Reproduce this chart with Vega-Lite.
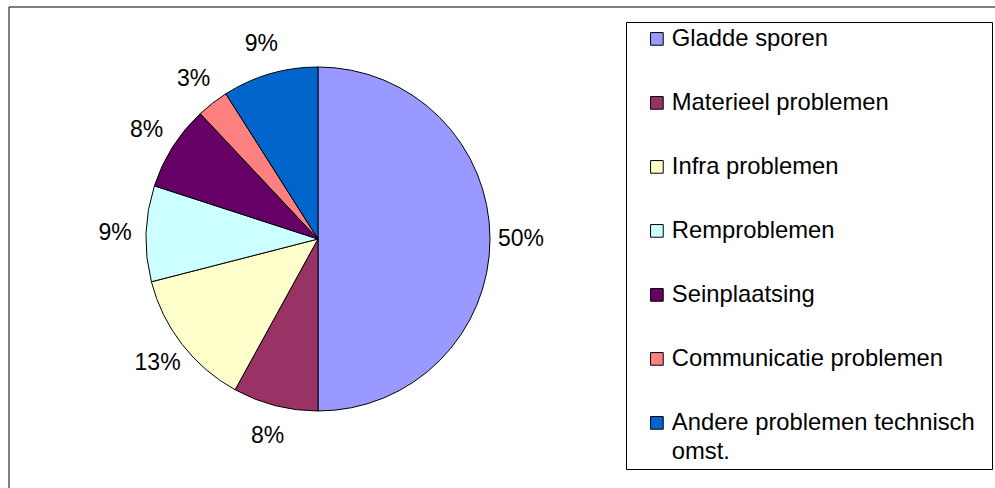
{
  "$schema": "https://vega.github.io/schema/vega-lite/v6.json",
  "width": 618,
  "height": 464,
  "autosize": {"type": "none"},
  "padding": {"left": 9, "top": 7, "right": 368, "bottom": 17},
  "background": "#ffffff",
  "config": {"view": {"stroke": null}, "font": "Liberation Sans"},
  "datasets": {
    "slices": [
      {"idx": 1, "category": "Gladde sporen", "share": 0.50},
      {"idx": 2, "category": "Materieel problemen", "share": 0.08},
      {"idx": 3, "category": "Infra problemen", "share": 0.13},
      {"idx": 4, "category": "Remproblemen", "share": 0.09},
      {"idx": 5, "category": "Seinplaatsing", "share": 0.08},
      {"idx": 6, "category": "Communicatie problemen", "share": 0.03},
      {"idx": 7, "category": "Andere problemen technisch omst.", "share": 0.09}
    ]
  },
  "layer": [
    {
      "data": {"values": [{"frame": 1}]},
      "mark": {"type": "rect", "x": 0, "y": 0, "x2": 1100, "y2": 600, "fill": "transparent", "stroke": "#000000", "strokeWidth": 1},
      "encoding": {}
    },
    {
      "data": {"name": "slices"},
      "mark": {"type": "arc", "outerRadius": 172, "stroke": "#000000", "strokeWidth": 1},
      "encoding": {
        "theta": {"field": "share", "type": "quantitative", "stack": true},
        "order": {"field": "idx", "type": "quantitative"},
        "color": {
          "field": "category",
          "type": "nominal",
          "scale": {
            "domain": ["Gladde sporen", "Materieel problemen", "Infra problemen", "Remproblemen", "Seinplaatsing", "Communicatie problemen", "Andere problemen technisch omst."],
            "range": ["#9999FF", "#993366", "#FFFFCC", "#CCFFFF", "#660066", "#FF8080", "#0066CC"]
          },
          "legend": {
            "title": "\u00a0",
            "titleOrient": "right",
            "titlePadding": 12,
            "titleFontSize": 1,
            "orient": "none",
            "legendX": 617,
            "legendY": 15,
            "direction": "vertical",
            "padding": 5,
            "strokeColor": "#000000",
            "fillColor": "#ffffff",
            "symbolType": "square",
            "symbolSize": 160,
            "symbolStrokeColor": "#000000",
            "symbolStrokeWidth": 1,
            "symbolOffset": 14,
            "labelFont": "Liberation Sans",
            "labelFontSize": 23.8,
            "labelColor": "#000000",
            "labelOffset": 3,
            "labelLimit": 0,
            "rowPadding": 39,
            "labelExpr": "datum.label == 'Andere problemen technisch omst.' ? ['Andere problemen technisch', 'omst.'] : datum.label",
            "encode": {
              "labels": {"update": {"lineHeight": {"value": 29}}}
            }
          }
        }
      }
    },
    {
      "data": {"name": "slices"},
      "mark": {"type": "text", "radius": 203, "fontSize": 23, "font": "Liberation Sans", "color": "#000000"},
      "encoding": {
        "theta": {"field": "share", "type": "quantitative", "stack": true},
        "order": {"field": "idx", "type": "quantitative"},
        "text": {"field": "share", "type": "quantitative", "format": ".0%"}
      }
    }
  ]
}
